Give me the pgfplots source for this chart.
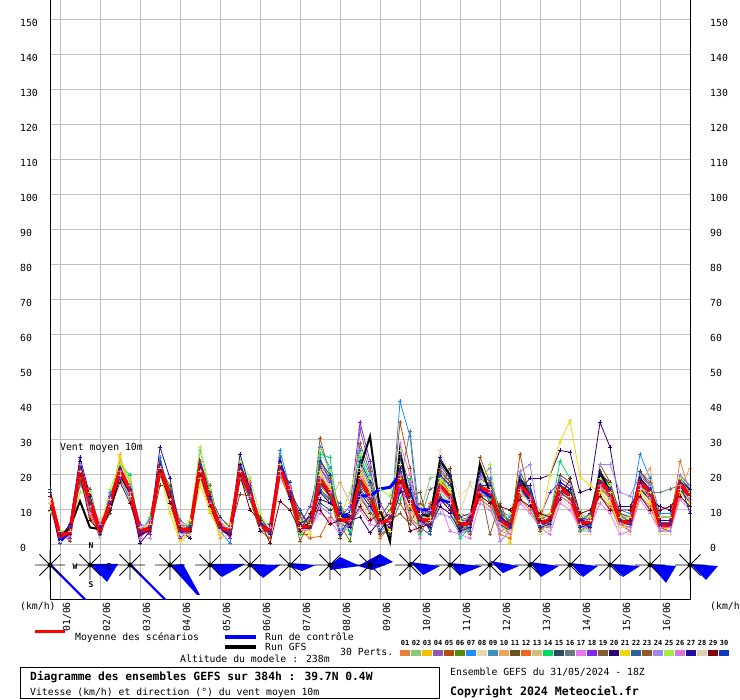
\documentclass[border=0pt]{standalone}
\usepackage{pgfplots}
\pgfplotsset{compat=1.18}
\usepackage{pgfplotstable}
\usepackage{fontspec}
\setmainfont{DejaVu Sans Mono}

\definecolor{c1}{HTML}{E8803A}
\definecolor{c2}{HTML}{88C870}
\definecolor{c3}{HTML}{F0C000}
\definecolor{c4}{HTML}{9058B0}
\definecolor{c5}{HTML}{B05010}
\definecolor{c6}{HTML}{5A8A10}
\definecolor{c7}{HTML}{1E8CFF}
\definecolor{c8}{HTML}{E8D8B0}
\definecolor{c9}{HTML}{4090C0}
\definecolor{c10}{HTML}{E8A858}
\definecolor{c11}{HTML}{6A5020}
\definecolor{c12}{HTML}{F06820}
\definecolor{c13}{HTML}{D0C080}
\definecolor{c14}{HTML}{00D860}
\definecolor{c15}{HTML}{2A4A60}
\definecolor{c16}{HTML}{6A7880}
\definecolor{c17}{HTML}{E878F0}
\definecolor{c18}{HTML}{8028F0}
\definecolor{c19}{HTML}{806030}
\definecolor{c20}{HTML}{300070}
\definecolor{c21}{HTML}{F0D800}
\definecolor{c22}{HTML}{2860A0}
\definecolor{c23}{HTML}{905820}
\definecolor{c24}{HTML}{A088F0}
\definecolor{c25}{HTML}{A0F040}
\definecolor{c26}{HTML}{D878D8}
\definecolor{c27}{HTML}{2010A0}
\definecolor{c28}{HTML}{E0D0B0}
\definecolor{c29}{HTML}{800010}
\definecolor{c30}{HTML}{1038B8}
\definecolor{gridgray}{HTML}{C0C0C0}
\definecolor{pureblue}{HTML}{0000FF}
\definecolor{purered}{HTML}{FF0000}

\pgfdeclareplotmark{compass}{%
 \pgfpathmoveto{\pgfqpoint{-15pt}{0pt}}\pgfpathlineto{\pgfqpoint{15pt}{0pt}}%
 \pgfpathmoveto{\pgfqpoint{0pt}{-15pt}}\pgfpathlineto{\pgfqpoint{0pt}{15pt}}%
 \pgfpathmoveto{\pgfqpoint{-10.6pt}{-10.6pt}}\pgfpathlineto{\pgfqpoint{10.6pt}{10.6pt}}%
 \pgfpathmoveto{\pgfqpoint{-10.6pt}{10.6pt}}\pgfpathlineto{\pgfqpoint{10.6pt}{-10.6pt}}%
 \pgfusepathqstroke
 \pgfpathcircle{\pgfpointorigin}{2.5pt}\pgfusepathqfill}

\pgfplotstableread{
h p1 p2 p3 p4 p5 p6 p7 p8 p9 p10 p11 p12 p13 p14 p15 p16 p17 p18 p19 p20 p21 p22 p23 p24 p25 p26 p27 p28 p29 p30 ctl gfs mean
0 14 15 13 14 15 14 13 15 14 12 14 15 13 14 16 14 13 15 14 10 14 13 15 14 9.5 14 15 13 14 15 14 15 14
6 2 3 1 2 4 3 2 1 3 2 4 1 2 3 2 1 3 4 2 3 2 0.5 3 2 4 3 2 1 3 2 1 2 2.4
12 4 5 3 6 1 4 3 5 4 2 4 3 5 4 3 6 4 2 5 3 4 4 3 5 4 3 6 4 3 5 4 5 3.8
18 22 20 23 19 21 22 24 20 21 23 18 22 21 20 23 17 22 21 19 24 22 20 21 23 15 22 25 21 20 22 22 12.5 21.4
24 12 10 14 9 13 12 11 15 12 10 13 8 12 14 11 13 9 12 16 11 12 13 10 12 15 11 14 12 7 12 12 5 12.5
30 4 3 5 2 4 6 3 4 5 2 4 3 7 4 3 5 4 2 4 3 5 4 3 6 4 3 5 2 4 3 4 4.5 3.8
36 12 14 11 13 10 12 15 11 13 12 9 14 12 11 13 10 12 14 11 13 12 10 13 12 16 11 12 13 10 12 12 10 12
42 21 24 26 20 22 21 19 23 22 20 21 22 24 23 20 21 22 19 22 23 25 21 20 22 23 21 22 20 18 22 21 20 21.4
48 16 18 15 17 14 16 13 19 15 16 17 14 16 20 15 13 16 17 15 14 18 16 15 17 19 15 16 14 12 16 16 15 15.7
54 4 3 5 2 4 3 6 4 3 5 4 2 4 3 5 4 3 6 4 0.5 4 3 5 4 3 2 4 5 3 4 3 4 3.8
60 5 6 4 5 7 4 5 3 6 5 4 6 5 8 4 5 6 3 5 4 6 5 4 7 5 2 5 6 4 5 5 5 4.8
66 22 23 21 24 20 22 25 21 23 22 17 22 21 23 24 20 22 21 23 22 21 24 20 22 23 21 28 22 21 23 22 21 22
72 14 16 12 15 13 17 14 11 15 14 17 13 15 12 14 16 13 15 14 12 9 14 16 13 15 14 19 13 14 15 14 13 14
78 4 5 1 4 6 3 4 5 4 3 6 4 5 3 4 7 4 2 5 4 1 4 5 3 4 6 4 3 5 4 4 4 4.3
84 5 4 3 5 4 6 4 3 5 4 5 3 4 6 4 5 3 4 5 2 4 5 3 4 7 4 5 3 4 5 4 4 4.3
90 22 27 20 23 21 24 22 20 23 21 22 24 19 23 22 21 24 22 20 23 17 22 24 21 28 23 22 21 20 23 23 22 22.4
96 13 15 9 14 12 16 11 13 14 12 15 12 13 11 14 17 12 13 15 11 10 14 12 13 16 12 14 13 11 13 13 12 12.5
102 5 6 4 5 7 5 4 6 5 2 5 6 4 5 8 5 4 6 5 4 3 5 6 4 5 7 5 4 6 5 5 5 5.2
108 4 3 5 4 2 4 0.5 4 5 3 4 6 3 4 5 3 4 2 4 3 5 4 3 4 6 3 4 5 3 4 3 4 3.8
114 21 22 20 23 19 21 24 20 22 21 14.5 22 20 21 23 19 22 21 20 23 21 22 20 21 24 22 26 21 20 22 21 21 21.4
120 15 16 14 15 13 17 15 14 16 15 14 18 15 13 16 14 15 17 14 16 15 13 16 15 19 14 16 15 10 15 15 15 14.9
126 6 5 7 6 4 5 6 7 5 6 8 5 6 4 6 7 5 6 5 4 6 7 5 6 9 5 6 5 7 6 6 6 5.7
132 4 3 5 4 2 4 3 5 4 3 4 5 3 4 6 3 4 3 5 4 3 4 5 3 4 5 3 4 0.5 4 4 4 3.8
138 22 23 21 24 20 22 27 21 23 22 24 21 22 23 20 22 24 21 22 23 21 25 22 20 23 22 24 21 12.5 22 23 22 22
144 15 16 14 17 13 15 16 14 15 17 14 16 15 13 18 15 14 16 15 13 16 15 14 17 15 16 14 15 10 15 15 15 15
150 5 6 4 8 3 5 7 4 6 5 9 4 6 3 5 7 4 6 8 5 4 6 1 5 7 4 6 5 4 10 5 5 5.2
156 6 4 5 7 3 6 5 4 8 5 6 2 5 7 4 6 5 11 4 6 3 5 7 4 6 5 8 4 9 5 5 6 5.2
162 20 24 16 22 30.5 21 28 14 25 18 17 2.5 19 26 12 15 9 22 17 13 21 16 23 11 27 19 15 20 10 24 18 19 18.6
168 15 19 12 17 20 14 22 11 18 13 16 8 15 25 10 13 7 18 14 12 16 13 19 9 21 15 12 17 6 20 15 14 15
174 7 9 5 8 10 6 4 12 7 18 2 6 9 5 11 7 3 8 6 9 5 12 7 4 8 6 10 5 7 3 8 8 7.1
180 7 6 9 5 8 1 10 6 8 12 7 5 9 4 7 8 6 11 5 7 9 3 8 6 15 7 5 9 6 8 9 8 7.1
186 17 24 13 33 20 16 27 15 22 19 14 21 12 25 18 23 10 35 16 8 20 17 29 14 26 19 15 22 11 24 14 22 18.6
192 14 18 10 22 15 12 20 11 16 13 9 15 8 19 14 17 6 24 12 3.5 15 13 21 10 19 14 11 16 7 18 14 31 14
198 6 8 4 9 5 7 3 10 6 5 8 2 7 4 9 6 5 12 3 7 8 5 6 4 16 6 7 5 9 4 16 10 6.3
204 7 9 5 8 6 10 4 7 8 6 12 5 7 9 3 8 6 7 5 9 4 8 7 6 14 7 5 9 6 8 16.5 1 7.1
210 20 23 16 26 35 18 41 15 22 19 24 17 21 13 25 18 29 16 12 22 19 24 9 20 27 17 15 23 18 21 20 27 19.5
216 13 15 10 17 22 12 31 9 16 11 14 8 13 19 10 32.5 20 12 7 15 11 14 6 18 13 9 16 12 4 14 12 12 12.9
222 7 9 5 10 6 8 4 11 7 6 15 5 8 3 9 7 6 10 4 8 7 5 12 6 8 2 7 9 5 8 10 9 7.1
228 6 19 8 5 9 7 10 4 6 8 5 12 7 9 4 16 6 8 11 5 7 3 9 6 8 10 5 7 6 9 10 8 7.1
234 17 20 15 22 19 16 14 27 18 21 16 13 19 15 23 17 12 20 16 11 18 14 21 9 19 16 25 15 13 20 13 24 17
240 14 16 12 18 15 13 11 20 15 17 22 10 16 12 19 14 4 17 13 9 15 11 18 8 16 13 20 12 10 17 12 20 14
246 5 7 4 8 6 3 6 14 5 7 4 9 6 2 8 5 3 7 6 4 5 8 6 3 7 5 4 9 6 5 6 5 5.7
252 6 8 5 7 3 9 6 17 5 7 4 8 6 5 9 6 2 7 5 8 6 4 7 5 6 9 5 18 6 7 6 7 6.3
258 17 19 15 18 25 16 20 14 17 15 19 13 18 16 21 15 12 20 17 14 16 18 14 19 17 15 16 18 14 17 16 23 16.7
264 15 17 13 16 18 14 19 12 15 14 17 11 16 13 18 15 10 17 3 14 16 12 18 22 23 15 14 16 12 17 14 15 15
270 7 8 5 9 6 4 10 7 8 5 9 3 7 6 10 8 4 7 12 6 8 5 9 1 7 6 8 5 11 7 8 7 7.1
276 5 6 4 7 3 5 8 4 6 5 7 2 5 4 6 5 3 6 5 4 0.5 6 5 4 9 5 6 4 10 5 5 5 5.2
282 17 19 15 18 26 16 20 14 18 15 21 13 17 16 19 15 12 18 17 16 15 19 14 21 18 16 17 15 13 18 17 19 17.1
288 14 16 12 15 13 17 11 14 16 13 15 10 14 12 16 14 9 15 13 19 12 16 14 23 15 13 17 12 11 15 13 14 14
294 6 8 4 7 9 5 6 3 7 6 8 5 10 4 7 6 5 8 6 19 5 7 4 6 8 5 7 6 9 5 6 6 6.3
300 7 8 6 9 5 7 8 4 7 6 9 5 7 8 6 7 3 15 6 20 20 7 8 5 9 6 7 4 8 6 7 7 7.1
306 16 18 14 17 19 15 17 13 18 15 20 14 16 24 17 15 12 18 16 27 29.5 17 15 19 16 14 18 16 13 17 16 17 16.7
312 14 16 12 15 17 13 15 11 16 13 18 12 14 19 15 13 10 16 14 26.5 35.5 15 13 17 14 12 16 14 19 15 14 15 14
318 6 8 4 7 9 5 6 3 7 6 8 5 10 4 7 4 5 8 6 15 19.5 7 5 6 8 5 7 6 9 5 7 6 6.3
324 6 7 5 8 4 6 9 3 6 7 5 8 6 4 9 6 5 7 6 16 17 5 7 4 8 6 5 7 10 6 6 6 6.3
330 18 20 16 19 23 17 21 15 19 16 20 14 18 17 21 16 12 19 17 35 15 18 16 23 19 17 20 16 14 18 18 21 18.1
336 15 17 13 16 18 14 16 12 17 14 18 11 15 13 17 15 9 16 14 28 12 16 14 23 17 13 16 15 10 16 15 15 15
342 7 8 5 9 6 7 10 4 8 6 9 5 7 8 6 7 3 8 6 11 5 7 9 15 8 6 7 5 10 7 7 7 6.9
348 6 7 5 8 4 6 9 3 7 6 8 5 6 7 5 6 4 8 6 11 5 7 6 14 8 5 7 6 10 6 6 6 6.3
354 18 20 16 19 21 17 26 15 19 17 20 14 18 16 21 17 13 19 17 16 15 18 16 20 19 17 18 16 14 19 18 19 18.1
360 15 17 13 16 18 14 19 12 16 22 17 11 15 13 17 15 9 16 14 13 12 16 14 17 15 13 16 15 10 16 15 15 15
366 6 7 4 8 5 6 9 3 6 5 8 4 6 7 5 15 4 7 6 11 5 7 6 4 8 5 7 6 10 6 6 6 5.7
372 6 7 5 8 4 6 9 3 6 5 8 4 6 7 5 16 4 7 6 10 5 7 6 4 8 5 7 6 11 6 6 6 5.7
378 24 19 16 18 20 17 19 15 18 16 20 14 18 17 19 17 13 19 17 16 15 18 16 20 19 17 18 16 14 18 17 18 17.6
384 15 16 13 15 17 14 16 12 15 22 17 11 14 13 16 15 10 15 13 12 12 16 14 17 15 13 16 14 11 9 14 14 14
}\ens

\newcommand{\txt}{\fontsize{9.8}{10}\selectfont}

\begin{document}
\begin{tikzpicture}
\useasboundingbox (0pt,0pt) rectangle (740pt,700pt);

\begin{axis}[
  at={(50pt,100pt)}, anchor=south west, scale only axis,
  width=640pt, height=600pt,
  xmin=0, xmax=384, ymin=-15.714, ymax=155.714,
  enlargelimits=false,
  axis x line=bottom, axis y line=left,
  axis line style={-, black, line width=1pt},
  major tick length=0pt,
  xtick={6,30,...,366},
  xticklabels={01/06,02/06,03/06,04/06,05/06,06/06,07/06,08/06,09/06,10/06,11/06,12/06,13/06,14/06,15/06,16/06},
  ytick={0,10,...,150},
  yticklabels={0,10,20,30,40,50,60,70,80,90,100,110,120,130,140,150},
  grid=major, major grid style={color=gridgray, line width=1pt},
  xticklabel style={inner sep=0pt, xshift=10pt, yshift=-2pt, rotate=90, anchor=base east, font=\txt},
  yticklabel style={inner sep=0pt, xshift=-30pt, yshift=-7pt, anchor=base west, font=\txt},
]
\pgfplotsinvokeforeach{1,...,30}{
  \addplot[color=c#1, line width=0.8pt, mark=+, mark size=2pt, mark options={solid, line width=0.8pt}] table[x=h, y=p#1]{\ens};
}
\addplot[black, line width=2pt] table[x=h, y=gfs]{\ens};
\addplot[pureblue, line width=3pt] table[x=h, y=ctl]{\ens};
\addplot[purered, line width=3.5pt] table[x=h, y=mean]{\ens};
\end{axis}

\begin{axis}[
  at={(50pt,100pt)}, anchor=south west, scale only axis,
  width=640pt, height=600pt,
  xmin=0, xmax=384, ymin=-15.714, ymax=155.714,
  enlargelimits=false,
  axis x line=none, axis y line=right,
  axis line style={-, black, line width=1pt},
  major tick length=0pt,
  xtick=\empty,
  ytick={0,10,...,150},
  yticklabels={0,10,20,30,40,50,60,70,80,90,100,110,120,130,140,150},
  yticklabel style={inner sep=0pt, xshift=20pt, yshift=-7pt, anchor=base west, font=\txt},
]
\end{axis}

\begin{axis}[
  at={(50pt,100pt)}, anchor=south west, scale only axis,
  width=640pt, height=600pt,
  xmin=0, xmax=384, ymin=-600, ymax=0,
  enlargelimits=false, hide axis, clip=false,
]
\addplot[fill=pureblue, draw=none] coordinates {(-0.6,-565) (0.6,-564) (22.2,-600) (20.4,-600)} -- cycle;
\addplot[fill=pureblue, draw=none] coordinates {(24,-564) (40.8,-564) (34.2,-582)} -- cycle;
\addplot[fill=pureblue, draw=none] coordinates {(47.4,-565) (48.6,-564) (70.2,-600) (68.4,-600)} -- cycle;
\addplot[fill=pureblue, draw=none] coordinates {(72,-565) (79.8,-564) (90,-595) (88.2,-595)} -- cycle;
\addplot[fill=pureblue, draw=none] coordinates {(96,-564) (117,-564) (103.2,-577)} -- cycle;
\addplot[fill=pureblue, draw=none] coordinates {(120,-564) (138,-565) (127.8,-578)} -- cycle;
\addplot[fill=pureblue, draw=none] coordinates {(144,-563) (159.6,-565) (151.2,-571) (144,-567)} -- cycle;
\addplot[fill=pureblue, draw=none] coordinates {(168,-565) (174,-557) (186,-566) (168,-570)} -- cycle;
\addplot[fill=pureblue, draw=none] coordinates {(184.8,-566) (198,-554) (205.8,-562) (193.2,-570)} -- cycle;
\addplot[fill=pureblue, draw=none] coordinates {(216,-562) (234,-566) (223.8,-575)} -- cycle;
\addplot[fill=pureblue, draw=none] coordinates {(240,-563) (259.2,-566) (246,-575)} -- cycle;
\addplot[fill=pureblue, draw=none] coordinates {(264,-561) (281.4,-566) (271.8,-573)} -- cycle;
\addplot[fill=pureblue, draw=none] coordinates {(288,-562) (305.4,-566) (294.6,-577)} -- cycle;
\addplot[fill=pureblue, draw=none] coordinates {(312,-563) (328.8,-566) (319.8,-577)} -- cycle;
\addplot[fill=pureblue, draw=none] coordinates {(336,-564) (354,-566) (343.8,-577)} -- cycle;
\addplot[fill=pureblue, draw=none] coordinates {(360,-564) (375.6,-566) (369.6,-583)} -- cycle;
\addplot[fill=pureblue, draw=none] coordinates {(384,-564) (400.8,-566) (393.6,-580)} -- cycle;
\addplot[only marks, mark=compass, black, mark options={line width=0.9pt}] coordinates {
 (0,-565) (24,-565) (48,-565) (72,-565) (96,-565) (120,-565) (144,-565) (168,-565) (192,-565)
 (216,-565) (240,-565) (264,-565) (288,-565) (312,-565) (336,-565) (360,-565) (384,-565)};
\end{axis}

% compass letters
\begin{scope}[font=\fontsize{8}{8}\selectfont\bfseries]
\node at (91pt,154pt) {N};
\node at (75pt,133pt) {W};
\node at (109pt,133pt) {E};
\node at (91pt,115pt) {S};
\end{scope}

\node[anchor=base west, inner sep=0pt, font=\txt] at (60pt,249.5pt) {Vent moyen 10m};
\node[anchor=base west, inner sep=0pt, font=\txt] at (20pt,90pt) {(km/h)};
\node[anchor=base west, inner sep=0pt, font=\txt] at (710pt,90pt) {(km/h)};

% legend
\draw[purered, line width=3.5pt] (35pt,68.5pt) -- (65pt,68.5pt);
\node[anchor=base west, inner sep=0pt, font=\txt] at (75pt,59pt) {Moyenne des scénarios};
\draw[pureblue, line width=4pt] (225pt,63pt) -- (256pt,63pt);
\node[anchor=base west, inner sep=0pt, font=\txt] at (265pt,59pt) {Run de contrôle};
\draw[black, line width=4pt] (225pt,53pt) -- (256pt,53pt);
\node[anchor=base west, inner sep=0pt, font=\txt] at (265pt,49pt) {Run GFS};
\node[anchor=base west, inner sep=0pt, font=\txt] at (340pt,44pt) {30 Perts.};
\node[anchor=base west, inner sep=0pt, font=\txt] at (180pt,37pt) {Altitude du modele : 238m};

\foreach \i in {1,...,30}{
  \pgfmathsetmacro{\xx}{400+11*(\i-1)}
  \fill[c\i] (\xx pt,44pt) rectangle ++(10pt,6pt);
  \node[inner sep=0pt, font=\fontsize{7}{7}\selectfont\bfseries] at (\xx pt+5pt,57pt) {\ifnum\i<10 0\fi\i};
}

% title box
\draw[black, line width=1pt] (20.5pt,1.5pt) rectangle (439.5pt,32.5pt);
\node[anchor=base west, inner sep=0pt, font=\fontsize{11.3}{12}\selectfont\bfseries] at (30pt,19.3pt) {Diagramme des ensembles GEFS sur 384h : 39.7N 0.4W};
\node[anchor=base west, inner sep=0pt, font=\txt] at (30pt,4.7pt) {Vitesse (km/h) et direction (°) du vent moyen 10m};
\node[anchor=base west, inner sep=0pt, font=\txt] at (450pt,24pt) {Ensemble GEFS du 31/05/2024 - 18Z};
\node[anchor=base west, inner sep=0pt, font=\fontsize{11.6}{12}\selectfont\bfseries] at (450pt,4.7pt) {Copyright 2024 Meteociel.fr};
\end{tikzpicture}
\end{document}
